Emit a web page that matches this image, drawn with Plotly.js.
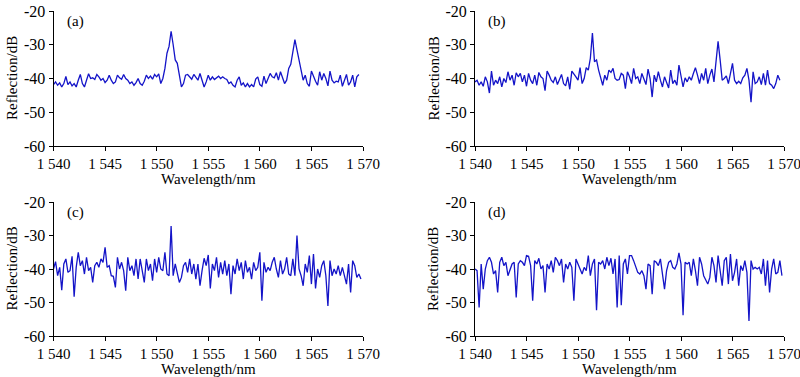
<!DOCTYPE html>
<html>
<head>
<meta charset="utf-8">
<script src="https://cdn.plot.ly/plotly-3.0.1.min.js"></script>
<style>html,body{margin:0;padding:0;background:#fff;}#chart{width:800px;height:377px;}</style>
</head>
<body>
<div id="chart"></div>
<script>
const wavelength = [1540.0,1540.2,1540.4,1540.6,1540.8,1541.0,1541.2,1541.4,1541.6,1541.8,
1542.0,1542.2,1542.4,1542.6,1542.8,1543.0,1543.2,1543.4,1543.6,1543.8,
1544.0,1544.2,1544.4,1544.6,1544.8,1545.0,1545.2,1545.4,1545.6,1545.8,
1546.0,1546.2,1546.4,1546.6,1546.8,1547.0,1547.2,1547.4,1547.6,1547.8,
1548.0,1548.2,1548.4,1548.6,1548.8,1549.0,1549.2,1549.4,1549.6,1549.8,
1550.0,1550.2,1550.4,1550.6,1550.8,1551.0,1551.2,1551.4,1551.6,1551.8,
1552.0,1552.2,1552.4,1552.6,1552.8,1553.0,1553.2,1553.4,1553.6,1553.8,
1554.0,1554.2,1554.4,1554.6,1554.8,1555.0,1555.2,1555.4,1555.6,1555.8,
1556.0,1556.2,1556.4,1556.6,1556.8,1557.0,1557.2,1557.4,1557.6,1557.8,
1558.0,1558.2,1558.4,1558.6,1558.8,1559.0,1559.2,1559.4,1559.6,1559.8,
1560.0,1560.2,1560.4,1560.6,1560.8,1561.0,1561.2,1561.4,1561.6,1561.8,
1562.0,1562.2,1562.4,1562.6,1562.8,1563.0,1563.2,1563.4,1563.6,1563.8,
1564.0,1564.2,1564.4,1564.6,1564.8,1565.0,1565.2,1565.4,1565.6,1565.8,
1566.0,1566.2,1566.4,1566.6,1566.8,1567.0,1567.2,1567.4,1567.6,1567.8,
1568.0,1568.2,1568.4,1568.6,1568.8,1569.0,1569.2,1569.4,1569.6,1569.8];

const reflA = [-41.8,-41.0,-42.0,-41.3,-42.5,-41.5,-39.4,-41.8,-41.0,-42.2,
-41.5,-42.5,-40.5,-38.8,-41.5,-42.5,-40.5,-38.6,-40.0,-39.8,
-40.3,-38.8,-39.5,-40.5,-40.0,-41.2,-40.5,-39.0,-40.5,-41.5,
-41.0,-39.0,-39.8,-40.2,-38.8,-40.0,-40.5,-41.5,-41.0,-42.0,
-41.2,-40.0,-41.5,-42.0,-40.8,-39.0,-40.0,-39.3,-40.2,-38.8,
-39.5,-38.6,-41.5,-40.0,-37.0,-32.5,-30.5,-26.0,-30.0,-34.5,
-35.5,-39.5,-42.5,-41.5,-39.0,-38.8,-39.5,-40.2,-38.8,-39.5,
-40.5,-38.5,-40.8,-42.5,-41.0,-39.0,-40.5,-39.5,-40.3,-39.8,
-39.3,-40.0,-39.5,-40.0,-40.3,-41.5,-41.0,-42.0,-42.5,-40.5,
-39.5,-42.0,-41.3,-42.5,-41.5,-42.5,-41.8,-42.5,-40.2,-39.5,
-41.8,-42.3,-39.3,-41.5,-40.0,-38.5,-39.5,-39.8,-38.3,-40.5,
-38.0,-39.5,-41.5,-40.5,-37.0,-35.8,-32.0,-28.5,-31.5,-35.0,
-37.5,-40.5,-39.0,-41.5,-42.3,-37.8,-39.5,-40.8,-42.0,-38.0,
-40.5,-38.5,-40.0,-42.2,-37.8,-40.5,-41.3,-40.8,-41.0,-39.0,
-42.3,-40.5,-38.8,-42.0,-41.0,-39.0,-42.5,-39.5,-38.8];

const reflB = [-41.0,-40.5,-42.0,-41.0,-42.3,-39.5,-41.0,-44.3,-37.8,-42.0,
-40.5,-41.5,-39.5,-42.5,-40.0,-41.2,-38.0,-40.5,-39.0,-42.0,
-38.3,-39.5,-38.5,-41.0,-39.0,-42.3,-38.5,-40.5,-41.5,-39.0,
-42.0,-38.2,-39.5,-40.0,-43.6,-37.8,-39.0,-40.5,-41.2,-39.5,
-41.8,-40.0,-38.8,-41.5,-42.2,-39.5,-43.2,-37.8,-38.5,-39.5,
-40.5,-36.8,-41.5,-40.0,-36.8,-37.5,-34.0,-26.5,-35.0,-34.5,
-37.5,-39.5,-42.0,-39.0,-40.5,-37.5,-38.2,-37.0,-40.0,-40.5,
-40.3,-38.5,-39.0,-43.0,-38.0,-39.5,-41.5,-37.0,-40.0,-39.5,
-41.5,-38.5,-40.5,-41.8,-37.2,-40.0,-45.5,-39.0,-41.0,-38.0,
-40.5,-42.5,-39.5,-41.5,-42.8,-37.5,-41.5,-40.5,-42.0,-36.0,
-39.5,-42.5,-39.8,-41.0,-39.5,-40.5,-38.5,-36.8,-39.0,-41.5,
-38.5,-40.5,-37.0,-41.5,-39.0,-37.2,-41.0,-35.0,-29.0,-34.5,
-40.5,-40.0,-39.2,-41.5,-38.5,-35.5,-40.5,-41.5,-40.8,-41.5,
-39.8,-39.0,-37.0,-40.5,-47.0,-38.0,-41.5,-41.0,-39.5,-41.8,
-38.5,-42.0,-37.5,-41.5,-42.0,-43.0,-41.5,-39.0,-40.5];

const reflC = [-40.0,-37.8,-42.0,-39.5,-46.3,-38.5,-37.0,-41.0,-40.5,-36.2,
-48.3,-39.5,-35.0,-39.0,-37.5,-41.5,-36.5,-40.5,-39.5,-44.0,
-39.0,-38.0,-39.5,-37.0,-38.0,-33.5,-39.5,-39.0,-42.0,-42.2,
-45.5,-36.5,-40.0,-38.0,-40.5,-46.5,-36.5,-40.5,-39.0,-42.0,
-37.0,-43.0,-37.0,-40.5,-44.0,-37.0,-40.5,-38.5,-43.5,-37.0,
-41.0,-36.5,-40.0,-40.5,-35.0,-41.5,-42.0,-27.2,-42.0,-38.5,
-41.0,-44.0,-42.5,-39.0,-38.0,-41.0,-37.0,-41.5,-38.5,-43.0,
-38.5,-45.0,-40.5,-36.8,-39.0,-35.8,-45.8,-38.5,-40.5,-36.5,
-42.5,-38.0,-41.5,-37.5,-42.0,-38.5,-47.5,-39.0,-41.5,-37.0,
-40.5,-38.0,-43.0,-37.5,-41.0,-39.5,-43.0,-38.0,-40.5,-39.5,
-35.0,-49.5,-38.0,-41.0,-39.5,-40.5,-38.0,-36.5,-40.0,-42.5,
-37.5,-41.5,-40.0,-36.5,-41.5,-42.0,-37.0,-42.0,-30.0,-40.0,
-42.0,-45.0,-38.5,-41.0,-36.0,-44.5,-35.5,-45.8,-40.0,-42.5,
-39.0,-37.5,-42.0,-51.0,-37.5,-42.0,-40.0,-41.5,-39.0,-42.0,
-39.5,-42.0,-44.5,-38.5,-47.0,-37.5,-39.0,-42.5,-41.5,-43.0];

const reflD = [-40.0,-40.5,-51.5,-38.5,-46.0,-40.0,-37.5,-36.5,-38.0,-41.5,
-40.5,-47.0,-38.0,-36.5,-39.0,-38.0,-42.0,-40.0,-38.5,-38.0,
-48.5,-38.5,-37.5,-38.0,-39.0,-36.0,-36.2,-39.0,-49.5,-37.5,
-38.5,-36.8,-40.0,-39.0,-47.0,-38.5,-40.0,-37.5,-41.0,-36.5,
-37.5,-39.0,-37.0,-44.0,-38.5,-40.0,-38.0,-39.5,-49.5,-37.0,
-38.5,-40.5,-41.5,-39.5,-40.5,-36.0,-42.0,-38.5,-37.0,-52.3,
-38.0,-38.5,-37.5,-40.0,-36.5,-39.0,-36.8,-41.5,-37.0,-51.5,
-36.0,-50.8,-38.5,-37.0,-41.5,-36.0,-36.0,-37.5,-39.0,-41.0,
-41.5,-40.5,-42.0,-46.0,-38.5,-39.0,-47.5,-37.5,-38.0,-39.0,
-37.0,-42.5,-46.0,-40.5,-38.0,-37.5,-39.5,-40.0,-38.5,-35.2,
-38.5,-53.8,-38.0,-38.5,-38.0,-42.0,-37.0,-40.5,-45.0,-36.5,
-38.5,-42.0,-43.5,-44.5,-42.5,-36.5,-39.0,-44.0,-36.0,-40.5,
-45.0,-37.5,-36.5,-44.5,-35.5,-43.5,-41.0,-37.0,-45.0,-39.0,
-40.5,-37.5,-41.0,-55.5,-37.5,-40.0,-39.5,-40.0,-39.5,-41.5,
-37.0,-45.0,-37.5,-47.0,-40.0,-37.0,-41.5,-41.0,-37.5,-42.0];

const panelLabels = ['(a)','(b)','(c)','(d)'];
const yTickVals = [-60,-50,-40,-30,-20];
const yTickText = ['-60','-50','-40','-30','-20'];
const xTickVals = [1540,1545,1550,1555,1560,1565,1570];
const xTickText = ['1 540','1 545','1 550','1 555','1 560','1 565','1 570'];

const series = [reflA, reflB, reflC, reflD];
const W = 800, H = 377;
const boxes = [
  {x0:53.5, x1:363, y0:11, y1:146},
  {x0:475, x1:784, y0:11, y1:146},
  {x0:53.5, x1:363, y0:202, y1:336},
  {x0:475, x1:784, y0:202, y1:336}
];
const font = "'Liberation Serif', 'Times New Roman', serif";
const traces = [];
const layout = {
  width: W, height: H,
  margin: {l:0, r:0, t:0, b:0},
  paper_bgcolor: '#fff', plot_bgcolor: '#fff',
  showlegend: false,
  font: {family: font, size: 15, color: '#000'},
  annotations: []
};
series.forEach((ys, i) => {
  const n = i + 1;
  const xa = 'x' + (n === 1 ? '' : n), ya = 'y' + (n === 1 ? '' : n);
  traces.push({
    x: wavelength.slice(0, ys.length), y: ys, xaxis: xa, yaxis: ya,
    type: 'scatter', mode: 'lines',
    line: {color: '#1414c8', width: 1.3}, hoverinfo: 'skip'
  });
  const b = boxes[i];
  const common = {showgrid:false, zeroline:false, showline:true, linecolor:'#000', linewidth:1,
    ticks:'outside', ticklen:4, tickwidth:1, tickcolor:'#000', ticklabeloverflow:'allow'};
  layout['xaxis' + (n === 1 ? '' : n)] = Object.assign({}, common, {
    domain:[b.x0/W, b.x1/W], anchor: ya, range:[1540,1570],
    tickmode:'array', tickvals:xTickVals, ticktext:xTickText,
    tickfont:{family:font, size:15, color:'#000'}
  });
  layout['yaxis' + (n === 1 ? '' : n)] = Object.assign({}, common, {
    domain:[1 - b.y1/H, 1 - b.y0/H], anchor: xa, range:[-60,-20],
    tickmode:'array', tickvals:yTickVals, ticktext:yTickText,
    tickfont:{family:font, size:16, color:'#000'}
  });
  layout.annotations.push({
    xref:'paper', yref:'paper', x:(b.x0 + 11)/W, y:1 - (b.y0 + 10)/H,
    xanchor:'left', yanchor:'middle', text:panelLabels[i], showarrow:false,
    font:{family:font, size:15, color:'#000'}
  });
  layout.annotations.push({
    xref:'paper', yref:'paper', x:((b.x0 + b.x1)/2)/W, y:1 - (b.y1 + 33)/H,
    xanchor:'center', yanchor:'middle', text:'Wavelength/nm', showarrow:false,
    font:{family:font, size:15, color:'#000'}
  });
  layout.annotations.push({
    xref:'paper', yref:'paper', x:(b.x0 - 42)/W, y:1 - ((b.y0 + b.y1)/2)/H,
    xanchor:'center', yanchor:'middle', text:'Reflection/dB', showarrow:false, textangle:-90,
    font:{family:font, size:15, color:'#000'}
  });
});
Plotly.newPlot('chart', traces, layout, {staticPlot:true, displayModeBar:false});
</script>
</body>
</html>
